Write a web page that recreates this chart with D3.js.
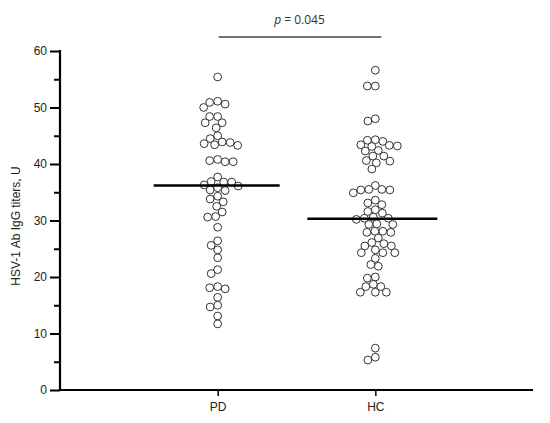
<!DOCTYPE html>
<html>
<head>
<meta charset="utf-8">
<script src="https://cdn.jsdelivr.net/npm/d3@7"></script>
<style>
  body { margin: 0; background: #fff; }
  svg { display: block; }
</style>
</head>
<body>
<svg id="chart" width="550" height="423"></svg>
<script>
const groups = ["PD", "HC"];
const pdValues = [55.4, 51.1, 50.9, 50.0, 50.6, 48.4, 48.4, 47.3, 47.3, 46.4, 45.0, 44.5,
  43.4, 43.3, 43.8, 43.6, 43.9, 40.4, 40.4, 40.6, 40.8, 37.7, 36.8, 36.8, 36.9, 36.1,
  35.4, 36.3, 35.8, 35.3, 34.3, 33.8, 33.3, 32.5, 31.5, 30.6, 30.7, 28.8, 26.4, 25.6,
  24.8, 23.4, 21.3, 20.6, 17.9, 18.1, 18.3, 16.4, 14.7, 15.0, 13.1, 11.7];
const hcValues = [56.6, 53.8, 53.8, 48.0, 47.6, 44.0, 44.2, 44.3, 43.1, 43.3, 43.2, 43.4,
  42.3, 42.4, 41.4, 41.4, 40.2, 40.5, 40.6, 39.1, 34.9, 35.4, 36.2, 35.4, 35.5, 35.5,
  32.8, 33.1, 33.6, 31.3, 31.6, 31.9, 30.2, 30.4, 30.4, 30.6, 29.3, 29.3, 29.4, 27.9,
  27.9, 28.1, 28.1, 26.9, 25.5, 25.5, 25.9, 26.1, 24.3, 24.3, 24.3, 24.8, 23.3, 21.9,
  22.2, 19.8, 20.0, 18.3, 18.3, 18.7, 17.3, 17.3, 17.3, 7.4, 5.3, 5.8];
const medians = [36.2, 30.3];
const yTicks = [0, 10, 20, 30, 40, 50, 60];
const yMinorTicks = [5, 15, 25, 35, 45, 55];
const yLabel = "HSV-1 Ab IgG titers, U";
const pLabel = "0.045";

const svg = d3.select("#chart");
const x = d3.scalePoint().domain(groups).range([60, 533]).padding(1);
const y = d3.scaleLinear().domain([0, 60]).range([390, 51]);

// y axis
const yAxis = d3.axisLeft(y).tickValues(yTicks).tickSize(10).tickPadding(3).tickFormat(d3.format("d"));
const gy = svg.append("g").attr("transform", "translate(60,0)").call(yAxis);
gy.select(".domain").remove();
gy.selectAll(".tick line").attr("stroke", "#000").attr("stroke-width", 2);
gy.selectAll(".tick text").attr("font-family", "Liberation Sans, Arial, sans-serif").attr("font-size", 12).attr("fill", "#222");
const gyMinor = svg.append("g").attr("transform", "translate(60,0)")
  .call(d3.axisLeft(y).tickValues(yMinorTicks).tickSize(6).tickFormat(""));
gyMinor.select(".domain").remove();
gyMinor.selectAll(".tick line").attr("stroke", "#000").attr("stroke-width", 2);

// x axis
const xAxis = d3.axisBottom(x).tickSize(6).tickPadding(6);
const gx = svg.append("g").attr("transform", "translate(0,390)").call(xAxis);
gx.select(".domain").remove();
gx.selectAll(".tick line").attr("stroke", "#000").attr("stroke-width", 1.5);
gx.selectAll(".tick text").attr("font-family", "Liberation Sans, Arial, sans-serif").attr("font-size", 12).attr("fill", "#222");

// axis lines
svg.append("line").attr("x1", 60).attr("x2", 60).attr("y1", y(60) - 1).attr("y2", y(0) + 1)
  .attr("stroke", "#000").attr("stroke-width", 2.2);
svg.append("line").attr("x1", 59).attr("x2", 533).attr("y1", y(0)).attr("y2", y(0))
  .attr("stroke", "#000").attr("stroke-width", 2.2);

// y label
svg.append("text")
  .attr("transform", `translate(20,226) rotate(-90)`)
  .attr("text-anchor", "middle")
  .attr("font-family", "Liberation Sans, Arial, sans-serif")
  .attr("font-size", 12).attr("fill", "#222")
  .text(yLabel);

// beeswarm layout
const R = 3.9;
const D = 7.6;
function swarm(values, cx) {
  const placed = [];
  const order = values.map((v, i) => i).sort((a, b) => values[b] - values[a]);
  const out = new Array(values.length);
  for (const i of order) {
    const py = y(values[i]);
    let best = null;
    for (let k = 0; k < 400 && best === null; k++) {
      const off = (k % 2 === 0 ? 1 : -1) * Math.ceil(k / 2) * 0.5;
      const px = cx + off;
      let ok = true;
      for (const p of placed) {
        const dx = p[0] - px, dy = p[1] - py;
        if (dx * dx + dy * dy < D * D) { ok = false; break; }
      }
      if (ok) best = px;
    }
    placed.push([best, py]);
    out[i] = [best, py];
  }
  return out;
}

const series = [pdValues, hcValues];
series.forEach((vals, gi) => {
  const pts = swarm(vals, x(groups[gi]));
  svg.append("g").selectAll("circle").data(pts).join("circle")
    .attr("cx", d => d[0]).attr("cy", d => d[1]).attr("r", R)
    .attr("fill", "#fff").attr("stroke", "#333").attr("stroke-width", 1);
});

// median lines
svg.append("g").selectAll("line").data(medians).join("line")
  .attr("x1", (d, i) => x(groups[i]) - (i === 0 ? 64 : 68))
  .attr("x2", (d, i) => x(groups[i]) + 62)
  .attr("y1", d => y(d)).attr("y2", d => y(d))
  .attr("stroke", "#000").attr("stroke-width", 2.5);

// significance bracket
svg.append("line").attr("x1", x("PD") + 1).attr("x2", x("HC") + 6)
  .attr("y1", 37).attr("y2", 37).attr("stroke", "#444").attr("stroke-width", 1.5);
const pt = svg.append("text").attr("x", (x("PD") + x("HC")) / 2 + 3).attr("y", 24)
  .attr("text-anchor", "middle")
  .attr("font-family", "Open Sans, Noto Sans, sans-serif").attr("font-size", 12).attr("fill", "#333");
pt.append("tspan").attr("font-style", "italic").text("p");
pt.append("tspan").text(" = " + pLabel);
</script>
</body>
</html>
